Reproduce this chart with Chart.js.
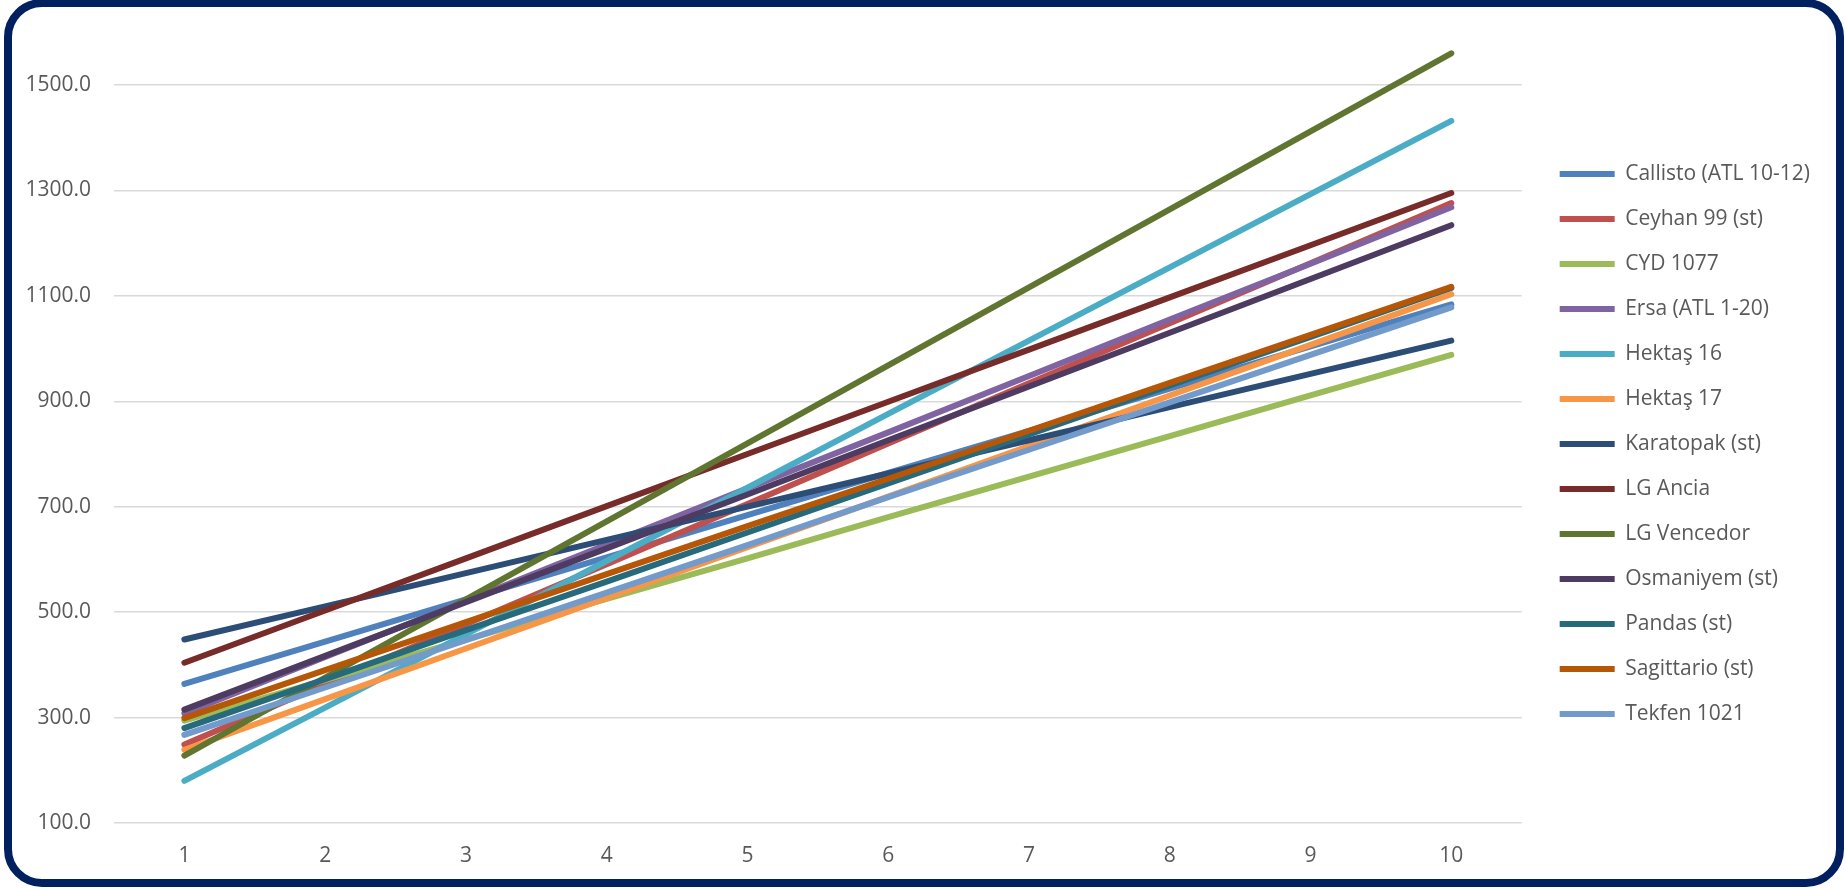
<!DOCTYPE html>
<html>
<head>
<meta charset="utf-8">
<script src="https://cdn.jsdelivr.net/npm/chart.js@4.4.1/dist/chart.umd.min.js"></script>
<style>
  body { margin: 0; background: #fff; }
  #wrap { position: relative; width: 1845px; height: 890px; overflow: hidden; }
  #frame {
    position: absolute; left: 4px; top: -1px; width: 1840px; height: 888px;
    box-sizing: border-box; border: 8px solid #002060; border-radius: 38px;
    pointer-events: none;
  }
</style>
</head>
<body>
<div id="wrap">
  <canvas id="myChart" width="1845" height="890"></canvas>
  <div id="frame"></div>
</div>
<script>
// x categories and y tick labels
var xLabels = ['1', '2', '3', '4', '5', '6', '7', '8', '9', '10'];
var yTicks = [100, 300, 500, 700, 900, 1100, 1300, 1500];

// series values
var callisto    = [364, 444, 524, 604, 684, 764, 844, 924, 1004, 1084];
var ceyhan99    = [249, 363, 477, 591, 705, 820, 934, 1048, 1162, 1276];
var cyd1077     = [294, 371, 448, 525, 602, 680, 757, 834, 911, 988];
var ersa        = [308, 415, 521, 628, 735, 841, 948, 1055, 1161, 1268];
var hektas16    = [180, 319, 458, 597, 736, 876, 1015, 1154, 1293, 1432];
var hektas17    = [239, 335, 431, 527, 623, 719, 815, 911, 1007, 1103];
var karatopak   = [448, 511, 574, 637, 700, 763, 826, 889, 952, 1015];
var lgAncia     = [404, 503, 602, 701, 800, 899, 998, 1097, 1196, 1295];
var lgVencedor  = [228, 376, 524, 672, 820, 968, 1116, 1264, 1412, 1560];
var osmaniyem   = [315, 417, 519, 621, 723, 826, 928, 1030, 1132, 1234];
var pandas      = [280, 373, 466, 558, 651, 744, 837, 930, 1022, 1115];
var sagittario  = [299, 390, 481, 572, 663, 753, 844, 935, 1026, 1117];
var tekfen1021  = [267, 357, 447, 537, 627, 718, 808, 898, 988, 1078];

var seriesNames = ['Callisto (ATL 10-12)', 'Ceyhan 99 (st)', 'CYD 1077', 'Ersa (ATL 1-20)', 'Hektaş 16', 'Hektaş 17',
    'Karatopak (st)', 'LG Ancia', 'LG Vencedor', 'Osmaniyem (st)', 'Pandas (st)', 'Sagittario (st)', 'Tekfen 1021'];
var seriesData = [callisto, ceyhan99, cyd1077, ersa, hektas16, hektas17,
    karatopak, lgAncia, lgVencedor, osmaniyem, pandas, sagittario, tekfen1021];
var seriesColors = ['#4F81BD', '#C0504D', '#9BBB59', '#8064A2', '#4BACC6', '#F79646',
    '#2C4D75', '#772C2A', '#5F7530', '#4D3B62', '#276A7C', '#B65708', '#729ACA'];

var FONT = "'Open Sans', sans-serif";
var TEXT = '#595959';

var _datasets = seriesNames.map(function (name, i) {
    return {
        label: name,
        data: seriesData[i],
        borderColor: seriesColors[i],
        backgroundColor: seriesColors[i],
        borderWidth: 6,
        borderCapStyle: 'round',
        borderJoinStyle: 'round',
        pointRadius: 0,
        tension: 0,
        order: -i   // later series drawn on top, like the original
    };
});

// push the legend a bit further from the plot without changing row spacing
var legendGap = {
    id: 'legendGap',
    afterLayout: function (chart) {
        if (chart.legend) {
            chart.legend.left += 14;
            chart.legend.right += 14;
        }
    }
};

new Chart('myChart', {
    type: 'line',
    data: {
        labels: xLabels,
        datasets: _datasets
    },
    plugins: [legendGap],
    options: {
        responsive: false,
        animation: false,
        devicePixelRatio: 1,
        layout: {
            padding: { left: 0, right: 39, top: 18, bottom: 20 }
        },
        plugins: {
            legend: {
                display: true,
                position: 'right',
                align: 'center',
                labels: {
                    font: { family: FONT, size: 21 },
                    color: TEXT,
                    usePointStyle: true,
                    pointStyle: 'line',
                    pointStyleWidth: 55,
                    padding: 24,
                    sort: function (a, b) { return a.datasetIndex - b.datasetIndex; }
                }
            },
            title: { display: false },
            tooltip: { enabled: false }
        },
        scales: {
            x: {
                offset: true,
                grid: { display: false, drawTicks: false },
                border: { display: false },
                ticks: { font: { family: FONT, size: 21 }, color: TEXT, padding: 20, maxRotation: 0 },
                afterFit: function (scale) { scale.height = 47; }
            },
            y: {
                min: 100,
                max: 1627,
                // invisible tick marks keep the labels 23px off the plot
                grid: { color: '#D9D9D9', lineWidth: 1.5, drawTicks: true, tickLength: 23, tickColor: 'rgba(0,0,0,0)' },
                border: { display: false },
                ticks: {
                    font: { family: FONT, size: 21 },
                    color: TEXT,
                    padding: 0,
                    callback: function (v) { return Number(v).toFixed(1); }
                },
                afterBuildTicks: function (scale) {
                    scale.ticks = yTicks.map(function (v) { return { value: v }; });
                },
                afterFit: function (scale) { scale.width = 114; }
            }
        }
    }
});
</script>
</body>
</html>
